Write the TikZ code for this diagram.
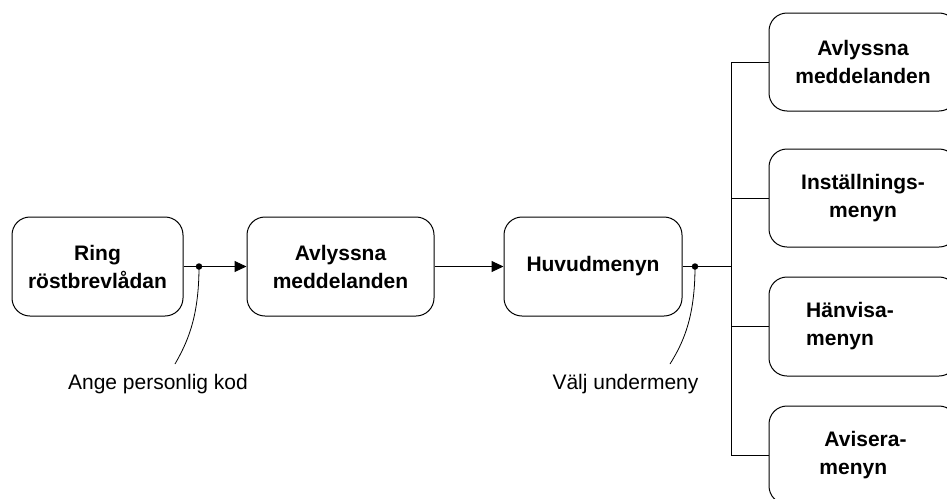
\documentclass[tikz,border=0pt]{standalone}
\usepackage{fontspec}
\setmainfont{Liberation Sans}
\usetikzlibrary{arrows.meta}
\tikzset{
  box/.style={draw, line width=1pt, rounded corners=18pt, inner sep=0pt, align=center,
    font=\fontsize{21}{28}\selectfont\bfseries},
  boxleft/.style={box, align=left},
  conn/.style={line width=1pt},
  arr/.style={conn, -{Triangle[length=12pt,width=11pt]}},
  lbl/.style={anchor=base, inner sep=0pt, font=\fontsize{21}{25}\selectfont},
  leader/.style={line width=0.8pt},
  dotmark/.style={fill=black, circle, inner sep=0pt, minimum size=6.5pt}
}
\begin{document}
\begin{tikzpicture}[x=1pt,y=-1pt]
\useasboundingbox (0,0) rectangle (947,498);
\clip (0,0) rectangle (947,498);
% main row
\node[box, minimum width=171pt, minimum height=99pt] (b1) at (97.5,266.5) {Ring\\röstbrevlådan};
\node[box, minimum width=187pt, minimum height=99pt] (b2) at (340.5,266.5) {Avlyssna\\meddelanden};
\node[box, minimum width=178pt, minimum height=99pt] (b3) at (593,266.5) {Huvudmenyn};
% right column
\node[box, minimum width=188pt, minimum height=98pt] (r1) at (863,62) {Avlyssna\\meddelanden};
\node[box, minimum width=188pt, minimum height=98pt] (r2) at (863,198) {Inställnings-\\menyn};
\node[boxleft, minimum width=188pt, minimum height=99pt] (r3) at (863,326.5) {Hänvisa-\hspace*{26pt}\\menyn};
\node[boxleft, minimum width=188pt, minimum height=98pt] (r4) at (863,455) {\hspace*{5pt}Avisera-\\menyn};
% connectors
\coordinate (d1) at (199,266.5);
\coordinate (d2) at (695,266.5);
\coordinate (j) at (731,266.5);
\draw[arr] (b1.east) -- (b2.west);
\draw[arr] (b2.east) -- (b3.west);
\draw[conn] (b3.east) -- (j);
\draw[conn] (r1.west) -| (j |- r4.west) -- (r4.west);
\draw[conn] (j |- r2.west) -- (r2.west);
\draw[conn] (j |- r3.west) -- (r3.west);
\node[dotmark] (p1) at (d1) {};
\node[dotmark] (p2) at (d2) {};
% labels
\node[lbl] (l1) at (158,389) {Ange personlig kod};
\node[lbl] (l2) at (625.5,389) {Välj undermeny};
\coordinate (e1) at (175,364);
\coordinate (e2) at (670,364);
\draw[leader] (d1) .. controls (199,318) and (187,343) .. (e1);
\draw[leader] (d2) .. controls (695,318) and (683,343) .. (e2);
\end{tikzpicture}
\end{document}
